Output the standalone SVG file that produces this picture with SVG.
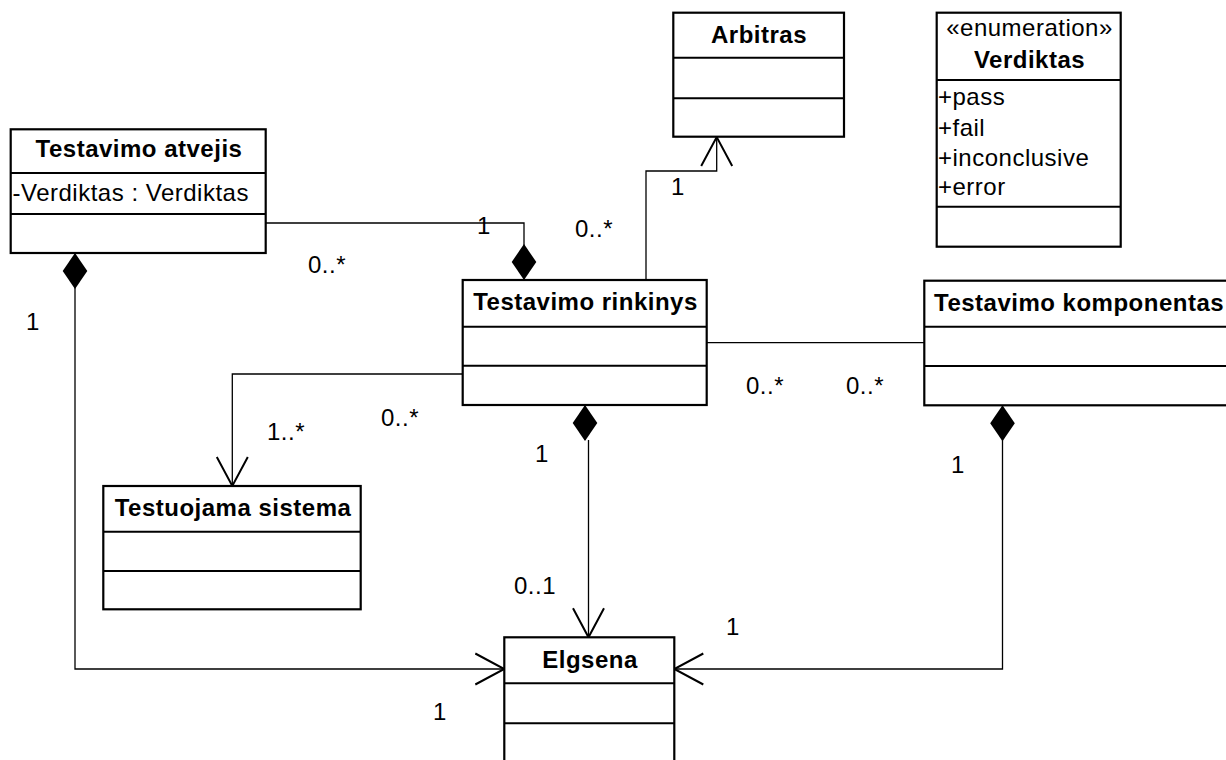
<svg xmlns="http://www.w3.org/2000/svg" width="1226" height="760" viewBox="0 0 1226 760">
  <style>
    .box { fill: #fff; stroke: #000; stroke-width: 2.2; }
    .sep { stroke: #000; stroke-width: 2; }
    .conn { fill: none; stroke: #000; stroke-width: 1.3; }
    .t { font-family: "Liberation Sans", Arial, sans-serif; font-size: 24px; letter-spacing: 0.5px; fill: #000; }
    .b { font-weight: bold; }
    .c { text-anchor: middle; }
  </style>
  <defs>
    <marker id="open" markerUnits="userSpaceOnUse" orient="auto" refX="0" refY="0" markerWidth="1" markerHeight="1" style="overflow:visible">
      <path d="M-29,-15.5 L0,0 L-29,15.5" fill="none" stroke="#000" stroke-width="2"/>
    </marker>
    <marker id="dia" markerUnits="userSpaceOnUse" orient="auto" refX="0" refY="0" markerWidth="1" markerHeight="1" style="overflow:visible">
      <path d="M0,0 L18,-12.3 L36,0 L18,12.3 Z" fill="#000"/>
    </marker>
  </defs>

  <!-- associations -->
  <g id="connectors">
    <path class="conn" d="M524,280 V223 H266" marker-start="url(#dia)"/>
    <path class="conn" d="M646,280 V171 H716.7 V137" marker-end="url(#open)"/>
    <path class="conn" d="M463,374 H232.3 V486" marker-end="url(#open)"/>
    <path class="conn" d="M707,342.7 H924"/>
    <path class="conn" d="M585,405 V440 M588.5,440 V637.3" marker-start="url(#dia)" marker-end="url(#open)"/>
    <path class="conn" d="M75,253 V669 H504.3" marker-start="url(#dia)" marker-end="url(#open)"/>
    <path class="conn" d="M1002.5,405.3 V669 H674.3" marker-start="url(#dia)" marker-end="url(#open)"/>

    <!-- multiplicities -->
    <text class="t" x="477" y="234">1</text>
    <text class="t" x="575" y="237">0..*</text>
    <text class="t" x="308" y="273">0..*</text>
    <text class="t" x="26" y="330">1</text>
    <text class="t" x="671" y="195">1</text>
    <text class="t" x="267" y="440">1..*</text>
    <text class="t" x="381" y="426">0..*</text>
    <text class="t" x="535" y="462">1</text>
    <text class="t" x="514" y="594">0..1</text>
    <text class="t" x="746" y="394">0..*</text>
    <text class="t" x="846" y="394">0..*</text>
    <text class="t" x="951" y="473">1</text>
    <text class="t" x="726" y="635">1</text>
    <text class="t" x="433" y="720">1</text>
  </g>

  <g id="arbitras">
    <rect class="box" x="673.3" y="12.7" width="170.7" height="124"/>
    <line class="sep" x1="673.3" y1="57.7" x2="844" y2="57.7"/>
    <line class="sep" x1="673.3" y1="98.3" x2="844" y2="98.3"/>
    <text class="t b c" x="759" y="42.7">Arbitras</text>
  </g>

  <g id="verdiktas">
    <rect class="box" x="936.7" y="12.7" width="184" height="234"/>
    <line class="sep" x1="936.7" y1="80" x2="1120.7" y2="80"/>
    <line class="sep" x1="936.7" y1="206.7" x2="1120.7" y2="206.7"/>
    <text class="t c" x="1029.5" y="36">«enumeration»</text>
    <text class="t b c" x="1029.5" y="68.3">Verdiktas</text>
    <text class="t" x="938" y="104.5">+pass</text>
    <text class="t" x="938" y="136">+fail</text>
    <text class="t" x="938" y="165.5">+inconclusive</text>
    <text class="t" x="938" y="195">+error</text>
  </g>

  <g id="testavimo-atvejis">
    <rect class="box" x="10.7" y="129.3" width="255" height="123.7"/>
    <line class="sep" x1="10.7" y1="173" x2="265.7" y2="173"/>
    <line class="sep" x1="10.7" y1="214" x2="265.7" y2="214"/>
    <text class="t b c" x="139" y="157.3">Testavimo atvejis</text>
    <text class="t" x="12.5" y="201">-Verdiktas : Verdiktas</text>
  </g>

  <g id="testavimo-rinkinys">
    <rect class="box" x="462.7" y="280" width="244" height="125"/>
    <line class="sep" x1="462.7" y1="326.7" x2="706.7" y2="326.7"/>
    <line class="sep" x1="462.7" y1="365.7" x2="706.7" y2="365.7"/>
    <text class="t b c" x="585.5" y="310">Testavimo rinkinys</text>
  </g>

  <g id="testavimo-komponentas">
    <rect class="box" x="924.3" y="280.7" width="320" height="124.6"/>
    <line class="sep" x1="924.3" y1="326.7" x2="1244" y2="326.7"/>
    <line class="sep" x1="924.3" y1="366" x2="1244" y2="366"/>
    <text class="t b" x="934" y="311">Testavimo komponentas</text>
  </g>

  <g id="testuojama-sistema">
    <rect class="box" x="103.3" y="486" width="257.4" height="123.3"/>
    <line class="sep" x1="103.3" y1="531.7" x2="360.7" y2="531.7"/>
    <line class="sep" x1="103.3" y1="571" x2="360.7" y2="571"/>
    <text class="t b c" x="233" y="515.7">Testuojama sistema</text>
  </g>

  <g id="elgsena">
    <rect class="box" x="504.3" y="637.3" width="170" height="140"/>
    <line class="sep" x1="504.3" y1="683.3" x2="674.3" y2="683.3"/>
    <line class="sep" x1="504.3" y1="723.3" x2="674.3" y2="723.3"/>
    <text class="t b c" x="590" y="668.3">Elgsena</text>
  </g>
</svg>
